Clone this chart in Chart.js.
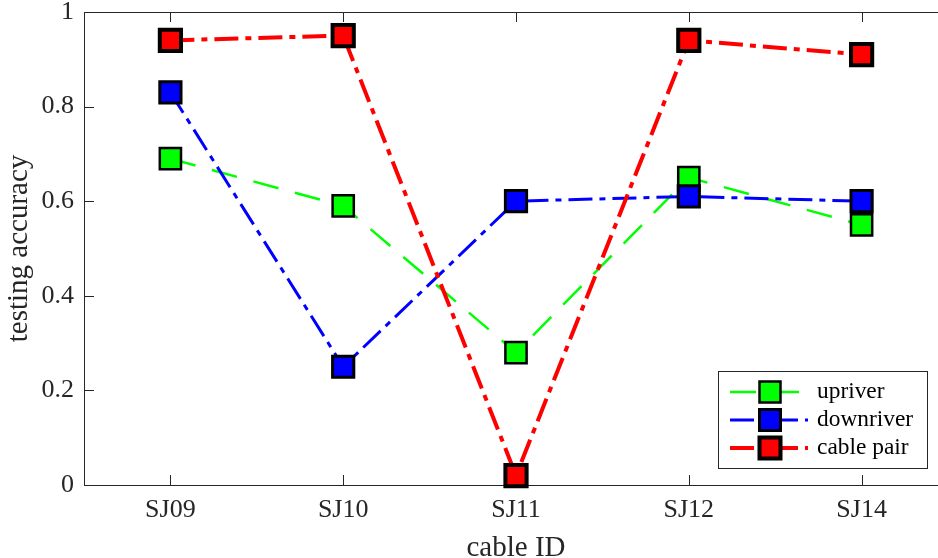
<!DOCTYPE html>
<html>
<head>
<meta charset="utf-8">
<script src="https://cdn.jsdelivr.net/npm/chart.js@4"></script>
<style>
  html, body { margin: 0; padding: 0; background: #fff; overflow: hidden; }
  #wrap { width: 950px; height: 564px; }
</style>
</head>
<body>
<div id="wrap"><canvas id="accChart" width="950" height="564"></canvas></div>
<script>
// Values
const cableIds = ["SJ09", "SJ10", "SJ11", "SJ12", "SJ14"];
const upriver = [0.69, 0.59, 0.28, 0.65, 0.55];
const downriver = [0.83, 0.25, 0.60, 0.61, 0.60];
const cablePair = [0.94, 0.95, 0.02, 0.94, 0.91];
const yTicks = [0, 0.2, 0.4, 0.6, 0.8, 1];

const axisColor = "#262626";
const serif = "'Liberation Serif', 'DejaVu Serif', serif";

// Box round the axes plus MATLAB-style inward ticks, drawn under the data
const axesBox = {
    id: "axesBox",
    beforeDatasetsDraw(chart) {
        const { ctx, chartArea: a, scales } = chart;
        ctx.save();
        ctx.strokeStyle = axisColor;
        ctx.lineWidth = 1;
        ctx.strokeRect(Math.round(a.left) + 0.5, Math.round(a.top) + 0.5,
            Math.round(a.right - a.left), Math.round(a.bottom - a.top));
        ctx.beginPath();
        yTicks.forEach(v => {
            const y = Math.round(scales.y.getPixelForValue(v)) + 0.5;
            ctx.moveTo(a.left, y); ctx.lineTo(a.left + 10, y);
            ctx.moveTo(a.right, y); ctx.lineTo(a.right - 10, y);
        });
        cableIds.forEach((c, i) => {
            const x = Math.round(scales.x.getPixelForValue(i)) + 0.5;
            ctx.moveTo(x, a.bottom); ctx.lineTo(x, a.bottom - 10);
            ctx.moveTo(x, a.top); ctx.lineTo(x, a.top + 10);
        });
        ctx.stroke();
        ctx.restore();
    }
};

// Legend in the lower right: line, marker and label per series
const boxLegend = {
    id: "boxLegend",
    afterDraw(chart) {
        const { ctx, chartArea: a } = chart;
        const left = a.right - 230, top = a.bottom - 114;
        ctx.save();
        ctx.fillStyle = "#fff";
        ctx.fillRect(left, top, 209, 97);
        ctx.strokeStyle = axisColor;
        ctx.lineWidth = 1;
        ctx.strokeRect(left + 0.5, top + 0.5, 209, 97);

        const rows = [0, 1, 2].map(i => chart.data.datasets.findIndex(d => d.legendRow === i));
        rows.forEach((di, r) => {
            const ds = chart.data.datasets[di];
            const y = a.bottom - 93 + r * 28;
            ctx.strokeStyle = ds.borderColor;
            ctx.lineWidth = ds.borderWidth;
            ctx.setLineDash(ds.borderDash);
            ctx.beginPath();
            ctx.moveTo(a.right - 218, y);
            ctx.lineTo(a.right - 140, y);
            ctx.stroke();
            ctx.setLineDash([]);
            const s = 21;
            ctx.fillStyle = ds.pointBackgroundColor;
            ctx.strokeStyle = "#000";
            ctx.lineWidth = ds.pointBorderWidth;
            ctx.fillRect(a.right - 178 - s / 2, y - s / 2, s, s);
            ctx.strokeRect(a.right - 178 - s / 2, y - s / 2, s, s);
            ctx.fillStyle = "#000";
            ctx.font = "23.4px " + serif;
            ctx.textAlign = "left";
            ctx.textBaseline = "middle";
            ctx.fillText(ds.label, a.right - 131, y);
        });
        ctx.restore();
    }
};

function series(label, data, color, width, dash, row, order) {
    return {
        label: label,
        data: data,
        borderColor: color,
        borderWidth: width,
        borderDash: dash,
        pointStyle: "rect",
        pointRadius: 15,
        pointHoverRadius: 15,
        pointBackgroundColor: color,
        pointBorderColor: "#000",
        pointBorderWidth: width,
        tension: 0,
        fill: false,
        clip: false,
        legendRow: row,
        order: order
    };
}

const ctx = document.getElementById("accChart").getContext("2d");
new Chart(ctx, {
    type: "line",
    data: {
        labels: cableIds,
        datasets: [
            series("upriver", upriver, "#00ff00", 2.5, [26, 17], 0, 2),
            series("downriver", downriver, "#0000ff", 3, [24, 7, 6, 7], 1, 1),
            series("cable pair", cablePair, "#ff0000", 4, [24, 7, 6, 7], 2, 0)
        ]
    },
    options: {
        responsive: false,
        animation: false,
        events: [],
        layout: { autoPadding: false, padding: { top: 12, right: 2, left: 0, bottom: 0 } },
        plugins: {
            legend: { display: false },
            tooltip: { enabled: false }
        },
        scales: {
            x: {
                type: "category",
                offset: true,
                grid: { display: false, drawTicks: false },
                border: { display: false },
                ticks: {
                    color: axisColor,
                    font: { family: serif, size: 26 },
                    padding: 10,
                    maxRotation: 0
                },
                title: {
                    display: true,
                    text: "cable ID",
                    color: axisColor,
                    font: { family: serif, size: 29, lineHeight: 1 },
                    padding: { top: 0, bottom: 1.5 }
                },
                afterFit(scale) { scale.height = 79; }
            },
            y: {
                min: 0,
                max: 1,
                afterBuildTicks(scale) { scale.ticks = yTicks.map(v => ({ value: v })); },
                grid: { display: false, drawTicks: false },
                border: { display: false },
                ticks: {
                    color: axisColor,
                    font: { family: serif, size: 26, lineHeight: 0.1 },
                    padding: 10,
                    callback: v => String(v)
                },
                title: {
                    display: true,
                    text: "testing accuracy",
                    color: axisColor,
                    font: { family: serif, size: 29, lineHeight: 1 },
                    padding: { top: 5, bottom: 0 }
                },
                afterFit(scale) { scale.width = 84; }
            }
        }
    },
    plugins: [axesBox, boxLegend]
});
</script>
</body>
</html>
